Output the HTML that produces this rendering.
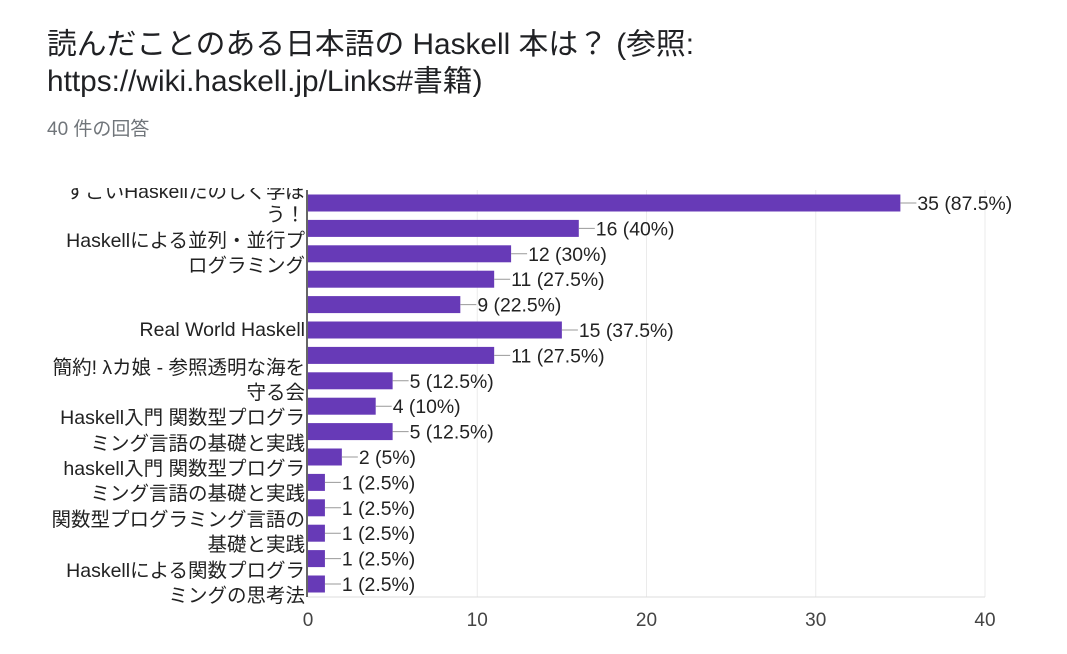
<!DOCTYPE html>
<html><head><meta charset="utf-8"><style>
body{margin:0;width:1067px;height:654px;background:#fff;font-family:"Liberation Sans","Noto Sans CJK JP",sans-serif;position:relative;overflow:hidden}
.t{position:absolute;left:47px;font-size:29.8px;color:#202124;white-space:nowrap}
.lbl{position:absolute;font-size:19.5px;color:#222;white-space:nowrap;line-height:20px}
#clip{position:absolute;left:0;top:188px;width:308px;height:420px;overflow:hidden}
</style></head><body>
<div class="t" style="top:19px">読んだことのある日本語の Haskell 本は？ (参照:</div>
<div class="t" style="top:56px">https://wiki.haskell.jp/Links#書籍)</div>
<div style="position:absolute;left:47px;top:114px;font-size:19px;color:#70757a">40 件の回答</div>
<div id="clip">
<div class="lbl" style="top:-6px;right:3px">すごいHaskellたのしく学ぼ</div>
<div class="lbl" style="top:17px;right:3px">う！</div>
<div class="lbl" style="top:43px;right:3px">Haskellによる並列・並行プ</div>
<div class="lbl" style="top:68px;right:3px">ログラミング</div>
<div class="lbl" style="top:132px;right:3px">Real World Haskell</div>
<div class="lbl" style="top:170px;right:3px">簡約! λカ娘 - 参照透明な海を</div>
<div class="lbl" style="top:195px;right:3px">守る会</div>
<div class="lbl" style="top:220px;right:3px">Haskell入門 関数型プログラ</div>
<div class="lbl" style="top:246px;right:3px">ミング言語の基礎と実践</div>
<div class="lbl" style="top:271px;right:3px">haskell入門 関数型プログラ</div>
<div class="lbl" style="top:296px;right:3px">ミング言語の基礎と実践</div>
<div class="lbl" style="top:322px;right:3px">関数型プログラミング言語の</div>
<div class="lbl" style="top:347px;right:3px">基礎と実践</div>
<div class="lbl" style="top:373px;right:3px">Haskellによる関数プログラ</div>
<div class="lbl" style="top:398px;right:3px">ミングの思考法</div>
</div>
<svg id="chart" width="1067" height="654" style="position:absolute;left:0;top:0"></svg>
<script>
const values=[35,16,12,11,9,15,11,5,4,5,2,1,1,1,1,1];
const ticks=[0,10,20,30,40];
const svg=document.getElementById('chart');
const NS='http://www.w3.org/2000/svg';
const x0=308,x1=985,yTop=190,yBot=597,maxV=40;
const xs=v=>x0+(x1-x0)*v/maxV;
const step=25.4,firstC=203,bh=17;
const yc=i=>firstC+i*step;
function mk(t,a){const e=document.createElementNS(NS,t);for(const k in a)e.setAttribute(k,a[k]);svg.appendChild(e);return e;}
ticks.forEach(t=>{
 if(t>0){const g=mk('line',{x1:xs(t),x2:xs(t),y1:yTop,y2:yBot,stroke:'#ebebeb','stroke-width':1});
 
 }
 const tl=mk('text',{x:xs(t),y:626,'text-anchor':'middle','font-size':19,fill:'#444','font-family':'Liberation Sans, sans-serif'});
 tl.textContent=t;
 
 
});
const bl=mk('line',{x1:x0,x2:x1,y1:yBot,y2:yBot,stroke:'#ddd','stroke-width':1});


values.forEach((v,i)=>{
 const r=mk('rect',{x:x0,y:yc(i)-bh/2,width:xs(v)-x0,height:bh,fill:'#673ab7'});
 
 
 const l=mk('line',{x1:xs(v),x2:xs(v)+16,y1:yc(i),y2:yc(i),stroke:'#999','stroke-width':1});
 
 
 const tx=mk('text',{x:xs(v)+17,y:yc(i)+7,'font-size':19.4,fill:'#222','font-family':'Liberation Sans, sans-serif'});
 tx.textContent=v+' ('+(+(v/40*100).toFixed(1))+'%)';
 
 
});
const ax=mk('line',{x1:x0-1,x2:x0-1,y1:yTop,y2:yBot,stroke:'#333','stroke-width':1.5});


</script>
</body></html>
